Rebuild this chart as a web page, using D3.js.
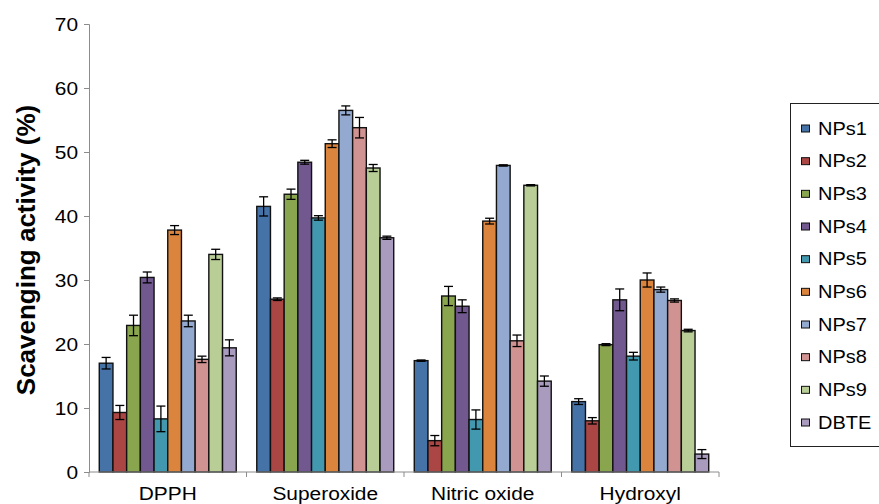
<!DOCTYPE html>
<html>
<head>
<meta charset="utf-8">
<script src="https://cdn.jsdelivr.net/npm/d3@7"></script>
<style>
  body { margin: 0; background: #fff; }
  svg { font-family: "Liberation Sans", Arial, sans-serif; }
</style>
</head>
<body>
<div class="container"></div>
<script>
// categories along the x axis
const CATEGORIES = ['DPPH', 'Superoxide', 'Nitric oxide', 'Hydroxyl']

// series names (legend order)
const SERIES = ['NPs1', 'NPs2', 'NPs3', 'NPs4', 'NPs5', 'NPs6', 'NPs7', 'NPs8', 'NPs9', 'DBTE']

// values per series, one per category
const NPS1 = [17.0, 41.5, 17.4, 11.0]
const NPS2 = [9.3, 27.0, 4.9, 8.0]
const NPS3 = [22.9, 43.4, 27.5, 19.9]
const NPS4 = [30.4, 48.4, 25.9, 26.9]
const NPS5 = [8.3, 39.7, 8.2, 18.1]
const NPS6 = [37.8, 51.3, 39.2, 30.0]
const NPS7 = [23.6, 56.5, 47.9, 28.5]
const NPS8 = [17.6, 53.8, 20.5, 26.8]
const NPS9 = [34.0, 47.5, 44.8, 22.1]
const DBTE = [19.4, 36.6, 14.2, 2.8]

// error bar half-widths, same order
const ERR1 = [0.9, 1.5, 0.1, 0.45]
const ERR2 = [1.1, 0.2, 0.8, 0.5]
const ERR3 = [1.6, 0.8, 1.5, 0.15]
const ERR4 = [0.85, 0.3, 1.0, 1.7]
const ERR5 = [2.0, 0.35, 1.5, 0.6]
const ERR6 = [0.7, 0.6, 0.45, 1.1]
const ERR7 = [0.9, 0.7, 0.1, 0.4]
const ERR8 = [0.5, 1.6, 0.9, 0.25]
const ERR9 = [0.8, 0.55, 0.1, 0.2]
const ERRD = [1.25, 0.25, 0.8, 0.7]

const Y_TICKS = [0, 10, 20, 30, 40, 50, 60, 70]

const COLORS = ['#4572A7', '#AA4643', '#89A54E', '#71588F', '#4198AF',
                '#DB843D', '#93A9CF', '#D19392', '#B9CD96', '#A99BBD']

const VALUES = [NPS1, NPS2, NPS3, NPS4, NPS5, NPS6, NPS7, NPS8, NPS9, DBTE]
const ERRORS = [ERR1, ERR2, ERR3, ERR4, ERR5, ERR6, ERR7, ERR8, ERR9, ERRD]

const width = 879, height = 504
// the original text is a little wider than Arial, so stretch it sideways
const STRETCH = 1.1
const FONT = 19

const svg = d3.select('div.container').append('svg')
    .attr('width', width)
    .attr('height', height)

// scales
const x = d3.scaleBand()
    .domain(CATEGORIES)
    .range([89, 719])

const xSub = d3.scaleBand()
    .domain(SERIES)
    .range([0, x.bandwidth()])
    .paddingOuter(0.75)

const y = d3.scaleLinear()
    .domain([0, 70])
    .range([472, 24])

const color = d3.scaleOrdinal().domain(SERIES).range(COLORS)

// flatten into rows for binding
const rows = []
CATEGORIES.forEach((c, ci) => {
    SERIES.forEach((s, si) => {
        rows.push({cat: c, series: s, value: VALUES[si][ci], err: ERRORS[si][ci]})
    })
})

// bars
const groups = svg.append('g').selectAll('g')
    .data(CATEGORIES)
    .enter().append('g')
    .attr('transform', d => `translate(${x(d)},0)`)

groups.selectAll('rect')
    .data(c => rows.filter(r => r.cat === c))
    .enter().append('rect')
    .attr('x', d => xSub(d.series))
    .attr('y', d => y(d.value))
    .attr('width', xSub.bandwidth())
    .attr('height', d => y(0) - y(d.value))
    .attr('fill', d => color(d.series))
    .attr('stroke', '#111')
    .attr('stroke-width', 1.4)

// error bars
const eb = groups.selectAll('g.err')
    .data(c => rows.filter(r => r.cat === c))
    .enter().append('g')
    .attr('class', 'err')
    .attr('stroke', '#000')
    .attr('stroke-width', 1.3)

eb.append('line')
    .attr('x1', d => xSub(d.series) + xSub.bandwidth() / 2)
    .attr('x2', d => xSub(d.series) + xSub.bandwidth() / 2)
    .attr('y1', d => y(d.value + d.err))
    .attr('y2', d => y(d.value - d.err))

eb.selectAll('line.cap')
    .data(d => [[d, d.value + d.err], [d, d.value - d.err]])
    .enter().append('line')
    .attr('class', 'cap')
    .attr('x1', d => xSub(d[0].series) + xSub.bandwidth() / 2 - 4.5)
    .attr('x2', d => xSub(d[0].series) + xSub.bandwidth() / 2 + 4.5)
    .attr('y1', d => y(d[1]))
    .attr('y2', d => y(d[1]))

// y axis
const yAxis = svg.append('g')
    .attr('transform', 'translate(89,0)')
    .call(d3.axisLeft(y).tickValues(Y_TICKS).tickSize(5).tickPadding(5))
yAxis.select('.domain').attr('stroke', '#8c8c8c')
yAxis.selectAll('.tick line').attr('stroke', '#8c8c8c')
yAxis.selectAll('.tick text')
    .attr('font-size', FONT)
    .attr('fill', '#000')
    .attr('font-family', '"Liberation Sans", Arial, sans-serif')
    .attr('x', -11 / STRETCH)
    .attr('dy', '0.35em')
    .attr('transform', `scale(${STRETCH},1)`)

// x axis: ticks between categories, labels centred
const xAxis = svg.append('g')
    .attr('transform', `translate(0,${y(0)})`)
xAxis.append('line')
    .attr('x1', x.range()[0]).attr('x2', x.range()[1])
    .attr('stroke', '#8c8c8c')
xAxis.selectAll('line.tick')
    .data(CATEGORIES.map(c => x(c)).concat([x.range()[1]]))
    .enter().append('line')
    .attr('class', 'tick')
    .attr('x1', d => d).attr('x2', d => d)
    .attr('y1', 0).attr('y2', 5)
    .attr('stroke', '#8c8c8c')
xAxis.selectAll('text')
    .data(CATEGORIES)
    .enter().append('text')
    .attr('transform', d => `translate(${x(d) + x.bandwidth() / 2},28) scale(${STRETCH},1)`)
    .attr('text-anchor', 'middle')
    .attr('font-size', FONT)
    .text(d => d)

// y axis title
svg.append('text')
    .attr('transform', `translate(35,${y(35) + 2}) rotate(-90)`)
    .attr('text-anchor', 'middle')
    .attr('font-size', 26)
    .attr('font-weight', 'bold')
    .text('Scavenging activity (%)')

// legend
const legend = svg.append('g')
svg.append('rect')
    .attr('x', 790.5).attr('y', 103.5)
    .attr('width', 100).attr('height', 343)
    .attr('fill', 'none')
    .attr('stroke', '#222')

const ly = d3.scalePoint()
    .domain(SERIES)
    .range([128, 422])

legend.selectAll('rect')
    .data(SERIES)
    .enter().append('rect')
    .attr('x', 801.5)
    .attr('y', d => ly(d) - 3)
    .attr('width', 8).attr('height', 7)
    .attr('fill', d => color(d))
    .attr('stroke', '#111')
    .attr('stroke-width', 1)

legend.selectAll('text')
    .data(SERIES)
    .enter().append('text')
    .attr('transform', d => `translate(818,${ly(d) + 6.5}) scale(1.05,1)`)
    .attr('font-size', FONT)
    .text(d => d)
</script>
</body>
</html>
